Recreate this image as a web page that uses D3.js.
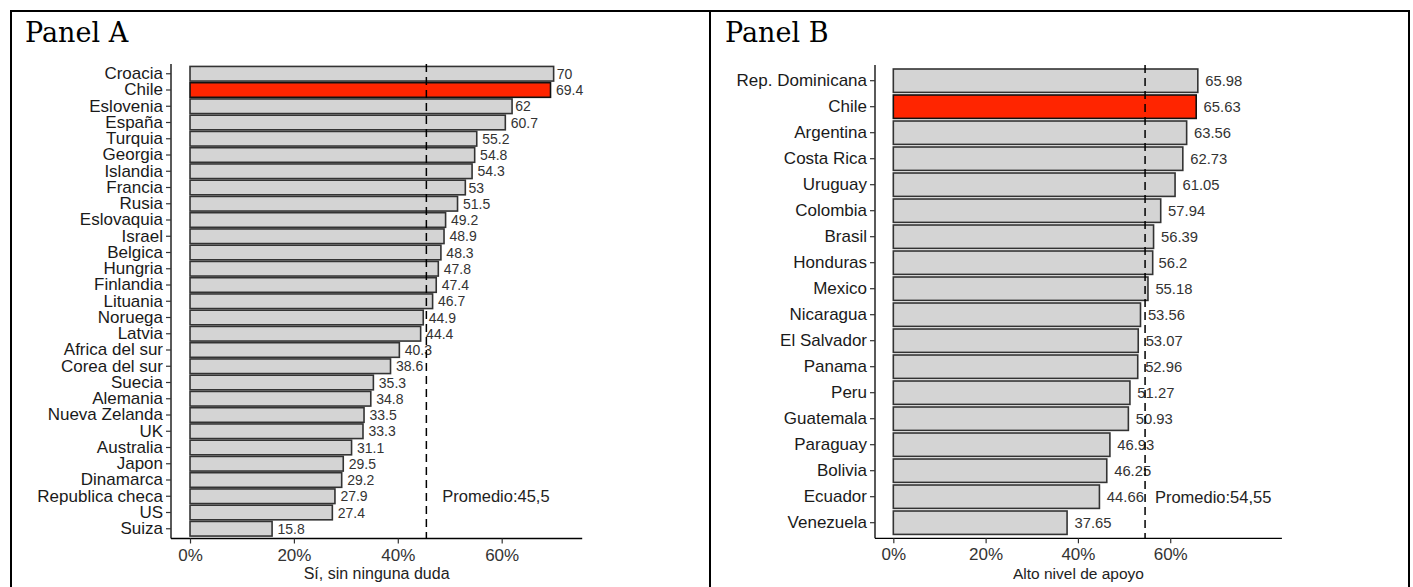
<!DOCTYPE html>
<html><head><meta charset="utf-8">
<script src="https://cdn.jsdelivr.net/npm/d3@7"></script>
<style>body{margin:0;background:#fff} svg{display:block}</style>
</head><body><svg id="c" width="1413" height="587"></svg>
<script>
// ---------- data ----------
const countriesA = ["Croacia","Chile","Eslovenia","España","Turquia","Georgia","Islandia","Francia","Rusia","Eslovaquia","Israel","Belgica","Hungria","Finlandia","Lituania","Noruega","Latvia","Africa del sur","Corea del sur","Suecia","Alemania","Nueva Zelanda","UK","Australia","Japon","Dinamarca","Republica checa","US","Suiza"];
const valuesA = [70,69.4,62,60.7,55.2,54.8,54.3,53,51.5,49.2,48.9,48.3,47.8,47.4,46.7,44.9,44.4,40.3,38.6,35.3,34.8,33.5,33.3,31.1,29.5,29.2,27.9,27.4,15.8];
const averageA = 45.5;
const countriesB = ["Rep. Dominicana","Chile","Argentina","Costa Rica","Uruguay","Colombia","Brasil","Honduras","Mexico","Nicaragua","El Salvador","Panama","Peru","Guatemala","Paraguay","Bolivia","Ecuador","Venezuela"];
const valuesB = [65.98,65.63,63.56,62.73,61.05,57.94,56.39,56.2,55.18,53.56,53.07,52.96,51.27,50.93,46.93,46.25,44.66,37.65];
const averageB = 54.55;
const xTicks = [0,20,40,60];
const panelTitles = ["Panel A","Panel B"];
const axisTitles = ["Sí, sin ninguna duda","Alto nivel de apoyo"];
const averageLabels = ["Promedio:45,5","Promedio:54,55"];
const highlight = "Chile";

// ---------- drawing ----------
const svg = d3.select("#c");
const FONT = "'Liberation Sans', Arial, sans-serif";

// table frame
const frame = svg.append("g").attr("stroke","#000").attr("stroke-width",2).attr("fill","none");
frame.append("path").attr("d","M11,587 V11 H1409 V587");
frame.append("line").attr("x1",710).attr("x2",710).attr("y1",11).attr("y2",587);

function drawPanel(cfg){
  const g = svg.append("g");
  g.append("text").attr("x",cfg.titleX).attr("y",41.5)
    .attr("font-family","'DejaVu Serif', serif").attr("font-size",27).attr("fill","#000")
    .text(cfg.title);

  const x = d3.scaleLinear().domain(cfg.xDomain).range(cfg.xRange);
  const y = d3.scaleBand().domain(cfg.cats).range(cfg.yRange).paddingInner(0.1).paddingOuter(0.15);
  const [left,right] = cfg.xRange;
  const [top,bottom] = cfg.yRange;

  // bars
  g.selectAll("rect.bar").data(cfg.cats).join("rect").attr("class","bar")
    .attr("x",x(0)).attr("y",d=>y(d))
    .attr("width",(d,i)=>x(cfg.vals[i])-x(0)).attr("height",y.bandwidth())
    .attr("fill",d=>d===highlight?"#ff2500":"#d4d4d4")
    .attr("stroke",d=>d===highlight?"#111":"#333").attr("stroke-width",1.6);

  // value labels (hjust -0.2)
  g.selectAll("text.val").data(cfg.cats).join("text").attr("class","val")
    .attr("y",d=>y(d)+y.bandwidth()/2).attr("dy","0.36em")
    .attr("font-family",FONT).attr("font-size",cfg.valSize).attr("fill","#333")
    .text((d,i)=>String(cfg.vals[i]))
    .each(function(d,i){
      const w = this.getComputedTextLength();
      d3.select(this).attr("x", x(cfg.vals[i]) + 0.2*w);
    });

  // average line
  g.append("line").attr("x1",x(cfg.avg)).attr("x2",x(cfg.avg)).attr("y1",top).attr("y2",bottom)
    .attr("stroke","#000").attr("stroke-width",1.5).attr("stroke-dasharray","8,5");

  // average label
  g.append("text").attr("x",x(cfg.avgLabelX)).attr("y",y(cfg.avgLabelRow)+y.bandwidth()/2).attr("dy","0.36em")
    .attr("text-anchor","middle").attr("font-family",FONT).attr("font-size",cfg.avgSize).attr("fill","#222")
    .text(cfg.avgLabel);

  // axes
  const ya = g.append("g").attr("transform",`translate(${left},0)`)
    .call(d3.axisLeft(y).tickSize(5).tickPadding(3));
  ya.select(".domain").attr("d",`M0,${top}V${bottom}`).attr("stroke","#000").attr("stroke-width",1.3);
  ya.selectAll(".tick line").attr("stroke","#333").attr("stroke-width",1.2);
  ya.selectAll(".tick text").attr("font-family",FONT).attr("font-size",cfg.catSize).attr("fill","#1a1a1a");

  const xa = g.append("g").attr("transform",`translate(0,${bottom})`)
    .call(d3.axisBottom(x).tickValues(xTicks).tickFormat(d=>d+"%").tickSize(5).tickPadding(5));
  xa.select(".domain").attr("d",`M${left},0H${right}`).attr("stroke","#000").attr("stroke-width",1.3);
  xa.selectAll(".tick line").attr("stroke","#333").attr("stroke-width",1.2);
  xa.selectAll(".tick text").attr("font-family",FONT).attr("font-size",17).attr("fill","#333");

  g.append("text").attr("x",(left+right)/2).attr("y",573).attr("dy","0.36em")
    .attr("text-anchor","middle").attr("font-family",FONT).attr("font-size",cfg.titleSize).attr("fill","#222")
    .text(cfg.axisTitle);
}

drawPanel({title:panelTitles[0], titleX:25, cats:countriesA, vals:valuesA, avg:averageA,
  xDomain:[-3.66,75.5], xRange:[171,582.2], yRange:[64,538.5],
  avgLabel:averageLabels[0], avgLabelX:58.9, avgLabelRow:"Republica checa",
  axisTitle:axisTitles[0], catSize:17, valSize:14, avgSize:16.5, titleSize:16});

drawPanel({title:panelTitles[1], titleX:725, cats:countriesB, vals:valuesB, avg:averageB,
  xDomain:[-3.97,84.2], xRange:[875,1281.9], yRange:[65.1,538.3],
  avgLabel:averageLabels[1], avgLabelX:69.3, avgLabelRow:"Ecuador",
  axisTitle:axisTitles[1], catSize:17, valSize:14.8, avgSize:16.5, titleSize:15.5});
</script></body></html>
